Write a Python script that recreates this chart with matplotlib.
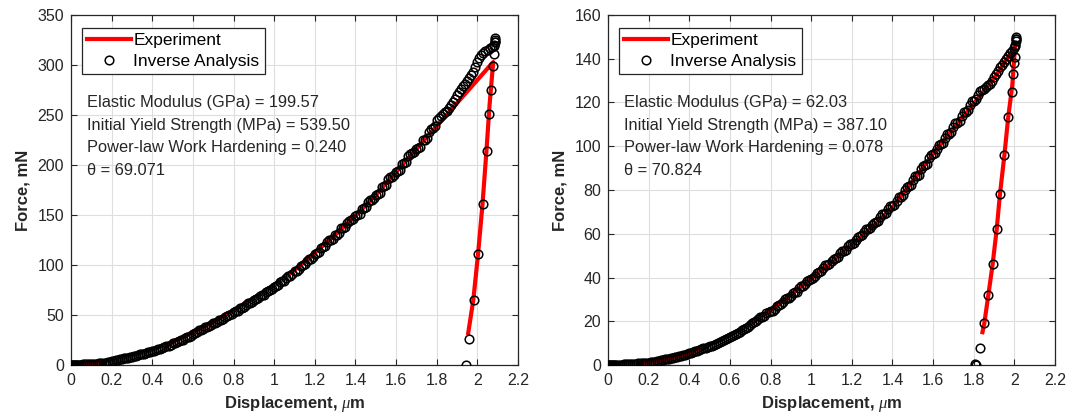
import matplotlib
matplotlib.use('Agg')
import matplotlib.pyplot as plt
from matplotlib.ticker import FuncFormatter

plt.rcParams['font.family'] = ['Liberation Sans', 'DejaVu Sans']
plt.rcParams['mathtext.fontset'] = 'custom'
plt.rcParams['mathtext.it'] = 'Liberation Serif:italic'
plt.rcParams['mathtext.rm'] = 'Liberation Sans'

# displacement samples of the inverse-analysis points (same for both tests)
h_start = [0.000, 0.005, 0.010, 0.015, 0.020, 0.025, 0.030, 0.035, 0.040, 0.050,
           0.060, 0.070, 0.080, 0.090, 0.100, 0.110, 0.120, 0.130, 0.140, 0.150,
           0.160, 0.170, 0.180, 0.190]
h_mid = [0.20, 0.21, 0.22, 0.23, 0.24, 0.25, 0.26, 0.27, 0.28, 0.29,
         0.30, 0.31, 0.32, 0.33, 0.34, 0.35, 0.36, 0.37, 0.38, 0.39,
         0.40, 0.41, 0.42, 0.43, 0.44, 0.45, 0.46, 0.47, 0.48, 0.49,
         0.50, 0.51, 0.52, 0.53, 0.54, 0.55, 0.56, 0.57, 0.58, 0.59,
         0.60, 0.61, 0.62, 0.63, 0.64, 0.65, 0.66, 0.67, 0.68, 0.69,
         0.70, 0.71, 0.72, 0.73, 0.74, 0.75, 0.76, 0.77, 0.78, 0.79,
         0.80, 0.81, 0.82, 0.83, 0.84, 0.85, 0.86, 0.87, 0.88, 0.89,
         0.90, 0.91, 0.92, 0.93, 0.94, 0.95, 0.96, 0.97, 0.98, 0.99,
         1.00, 1.01, 1.02, 1.03, 1.04, 1.05, 1.06, 1.07, 1.08, 1.09,
         1.10, 1.11, 1.12, 1.13, 1.14, 1.15, 1.16, 1.17, 1.18, 1.19,
         1.20, 1.21, 1.22, 1.23, 1.24, 1.25, 1.26, 1.27, 1.28, 1.29,
         1.30, 1.31, 1.32, 1.33, 1.34, 1.35, 1.36, 1.37, 1.38, 1.39,
         1.40, 1.41, 1.42, 1.43, 1.44, 1.45, 1.46, 1.47, 1.48, 1.49,
         1.50, 1.51, 1.52, 1.53, 1.54, 1.55, 1.56, 1.57, 1.58, 1.59,
         1.60, 1.61, 1.62, 1.63, 1.64, 1.65, 1.66, 1.67, 1.68, 1.69,
         1.70, 1.71, 1.72, 1.73, 1.74, 1.75, 1.76, 1.77, 1.78, 1.79,
         1.80, 1.81, 1.82, 1.83, 1.84, 1.85, 1.86, 1.87, 1.88, 1.89,
         1.90, 1.91, 1.92, 1.93, 1.94, 1.95, 1.96, 1.97, 1.98, 1.99]

# ---- left specimen -------------------------------------------------------
exp1_h = [0, 0.1, 0.2, 0.3, 0.4, 0.5, 0.6, 0.7, 0.8, 0.9, 1.0, 1.1, 1.2, 1.3,
          1.4, 1.5, 1.6, 1.7, 1.8, 1.9, 2.0, 2.078,
          2.06, 2.045, 2.025, 2.003, 1.98, 1.955]
exp1_f = [0, 1, 4, 9, 15, 23, 33, 43, 55, 67, 80, 95, 112, 130,
          149, 170, 193, 216, 239, 262, 285, 303,
          260, 215, 160, 110, 65, 32]

inv1_f_start = [0, 0, 0.05, 0.1, 0.15, 0.2, 0.25, 0.3, 0.35, 0.45,
                0.55, 0.65, 0.75, 0.85, 0.95, 1.1, 1.3, 1.5, 1.7, 1.95,
                2.2, 2.5, 2.8, 3.2]
inv1_f_mid = [3.6, 4.0, 4.6, 5.3, 5.6, 5.9, 6.6, 7.2, 7.4, 7.8,
              8.4, 9.0, 9.4, 9.8, 10.6, 11.2, 11.4, 12.0, 12.8, 13.4,
              13.6, 14.0, 15.2, 16.0, 16.2, 17.0, 18.4, 19.0, 19.4, 20.2,
              21.6, 21.8, 23.0, 24.4, 24.6, 25.4, 27.2, 28.0, 28.2, 29.4,
              31.4, 31.6, 32.8, 34.6, 34.8, 35.6, 37.6, 38.4, 38.6, 39.8,
              41.8, 42.0, 42.8, 44.8, 45.4, 45.8, 47.8, 49.4, 49.6, 50.6,
              53.4, 53.6, 54.4, 56.8, 57.4, 57.8, 60.0, 61.6, 61.8, 62.8,
              65.4, 65.6, 66.6, 69.2, 69.8, 70.2, 72.8, 74.4, 74.6, 75.8,
              78.4, 78.8, 80.0, 83.0, 83.6, 84.2, 87.4, 89.0, 89.4, 90.6,
              93.6, 94.0, 95.6, 99.2, 99.8, 100.6, 104.4, 106.0, 106.4, 107.8,
              111.4, 111.6, 113.0, 117.2, 117.8, 118.6, 122.8, 124.6, 124.8, 126.2,
              130.0, 130.4, 132.0, 136.6, 137.2, 137.8, 142.4, 144.4, 144.8, 146.0,
              149.2, 149.6, 151.2, 156.4, 157.2, 157.8, 163.0, 165.0, 165.4, 166.6,
              170.4, 170.8, 172.4, 178.2, 179.0, 179.6, 185.6, 188.0, 188.4, 189.8,
              193.4, 193.8, 195.4, 201.2, 202.0, 202.6, 208.6, 211.2, 211.6, 212.8,
              216.4, 216.8, 218.4, 224.6, 225.4, 226.6, 233.0, 236.0, 237.0, 239.0,
              245.0, 246.5, 248.5, 251.0, 252.5, 254.0, 256.5, 259.5, 262.5, 266.0,
              270.0, 273.0, 276.0, 278.5, 281.0, 284.0, 287.0, 290.0, 293.0, 297.5]
# top of loading branch and the unloading branch
inv1_h_end = [2.000, 2.010, 2.020, 2.030, 2.040, 2.050, 2.060, 2.070, 2.080,
              2.085, 2.087, 2.088,
              2.086, 2.084, 2.080, 2.075, 2.067, 2.057, 2.046, 2.026, 2.001,
              1.985, 1.960, 1.942]
inv1_f_end = [303.0, 306.5, 309.5, 311.5, 313.5, 315.0, 316.5, 318.0, 320.0,
              322.5, 325.0, 326.5,
              323.0, 319.0, 311.0, 299.0, 275.0, 251.0, 214.0, 161.0, 111.0,
              65.0, 26.0, 0.0]

# ---- right specimen ------------------------------------------------------
exp2_h = [0, 0.1, 0.2, 0.3, 0.4, 0.5, 0.6, 0.7, 0.8, 0.9, 1.0, 1.1, 1.2, 1.3,
          1.4, 1.5, 1.6, 1.7, 1.8, 1.9, 2.003,
          1.99, 1.97, 1.951, 1.929, 1.913, 1.893, 1.872, 1.852, 1.843]
exp2_f = [0, 0.3, 1.2, 3, 5.5, 9, 13.5, 19, 25, 32, 39.5, 47, 55, 63,
          72, 84, 96.5, 108, 119.5, 131, 145.5,
          128, 113.5, 96, 78, 62, 46, 32, 19, 15]

inv2_f_start = [0, 0, 0, 0, 0.02, 0.04, 0.06, 0.08, 0.1, 0.12,
                0.15, 0.2, 0.25, 0.3, 0.35, 0.4, 0.45, 0.55, 0.6, 0.7,
                0.75, 0.85, 0.95, 1.0]
inv2_f_mid = [1.1, 1.3, 1.45, 1.6, 1.8, 2.0, 2.2, 2.4, 2.6, 2.8,
              2.9, 3.1, 3.3, 3.5, 3.8, 4.1, 4.3, 4.5, 4.8, 5.1,
              5.3, 5.6, 5.9, 6.2, 6.6, 7.0, 7.3, 7.6, 8.0, 8.4,
              8.5, 8.8, 9.2, 9.8, 10.2, 10.5, 10.9, 11.5, 12.0, 12.3,
              12.7, 13.2, 13.9, 14.3, 14.6, 15.3, 16.1, 16.6, 16.9, 17.6,
              18.4, 19.3, 19.6, 20.0, 21.0, 21.8, 22.0, 22.5, 23.6, 24.4,
              24.6, 24.9, 25.6, 26.9, 27.4, 27.7, 28.6, 30.0, 30.5, 30.8,
              31.6, 32.7, 33.2, 33.6, 35.0, 35.9, 36.2, 36.9, 38.4, 39.0,
              39.2, 39.6, 40.6, 42.0, 42.4, 42.9, 44.3, 45.6, 45.9, 46.4,
              47.6, 48.6, 48.9, 49.3, 51.0, 52.0, 52.2, 52.8, 54.4, 55.3,
              55.4, 55.8, 57.2, 58.6, 58.8, 59.2, 60.8, 62.0, 62.2, 62.8,
              64.2, 65.0, 65.2, 65.7, 67.5, 68.8, 69.0, 69.5, 71.4, 72.6,
              72.8, 73.2, 75.0, 76.6, 76.9, 77.5, 79.8, 81.4, 81.6, 82.4,
              84.6, 86.2, 86.4, 87.0, 89.4, 91.0, 91.3, 92.0, 94.4, 96.0,
              96.3, 96.8, 98.8, 100.6, 100.8, 101.4, 103.8, 105.6, 105.8, 106.6,
              108.6, 110.6, 110.8, 111.4, 113.8, 115.6, 115.8, 116.6, 118.8, 120.6,
              120.8, 121.4, 123.2, 125.2, 125.6, 126.2, 127.0, 128.0, 128.6, 129.6,
              131.5, 133.0, 134.5, 136.0, 137.2, 138.6, 140.0, 141.2, 142.4, 143.6]
inv2_h_end = [2.000, 2.004, 2.007, 2.009, 2.010,
              2.008, 2.005, 2.002, 1.999, 1.995, 1.990, 1.970, 1.951, 1.929,
              1.913, 1.893, 1.872, 1.852, 1.831, 1.811, 1.808]
inv2_f_end = [145.0, 146.5, 148.0, 149.2, 150.0,
              149.0, 146.0, 141.0, 138.0, 133.0, 125.0, 113.5, 96.0, 78.0,
              62.0, 46.0, 32.0, 19.0, 7.6, 0.0, 0.3]

panels = [
    dict(eh=exp1_h, ef=exp1_f,
         ih=h_start + h_mid + inv1_h_end,
         iff=inv1_f_start + inv1_f_mid + inv1_f_end,
         ymax=350, ystep=50,
         lines=['Elastic Modulus (GPa) = 199.57',
                'Initial Yield Strength (MPa) = 539.50',
                'Power-law Work Hardening = 0.240',
                '\u03b8 = 69.071']),
    dict(eh=exp2_h, ef=exp2_f,
         ih=h_start + h_mid + inv2_h_end,
         iff=inv2_f_start + inv2_f_mid + inv2_f_end,
         ymax=160, ystep=20,
         lines=['Elastic Modulus (GPa) = 62.03',
                'Initial Yield Strength (MPa) = 387.10',
                'Power-law Work Hardening = 0.078',
                '\u03b8 = 70.824']),
]

W, H = 1079, 418
fig = plt.figure(figsize=(W / 100, H / 100), dpi=100)
lefts = [71, 608]
dark = '#262626'

for left, p in zip(lefts, panels):
    ax = fig.add_axes([left / W, 53 / H, 447 / W, 350 / H])
    ax.plot(p['eh'], p['ef'], color='red', lw=3, label='Experiment', zorder=2)
    ax.plot(p['ih'], p['iff'], ls='none', marker='o', ms=6.2, mfc='none',
            mec='black', mew=1.1, label='Inverse Analysis', zorder=3)

    ax.set_xlim(0, 2.2)
    ax.set_ylim(0, p['ymax'])
    ax.set_xticks([0, 0.2, 0.4, 0.6, 0.8, 1.0, 1.2, 1.4, 1.6, 1.8, 2.0, 2.2])
    ax.set_yticks(list(range(0, p['ymax'] + 1, p['ystep'])))
    ax.xaxis.set_major_formatter(FuncFormatter(lambda v, pos: '%g' % round(v, 1)))
    ax.grid(True, color='#dedede', lw=0.8)
    ax.set_axisbelow(True)
    ax.tick_params(direction='in', top=True, right=True, length=4,
                   color=dark, labelsize=11.5, labelcolor=dark)
    ax.tick_params(axis='x', pad=6)
    ax.tick_params(axis='y', pad=5)
    for s in ax.spines.values():
        s.set_color(dark)
        s.set_linewidth(0.9)

    ax.set_xlabel(r'Displacement, $\mu$m', fontsize=12, fontweight='bold',
                  color=dark, labelpad=4)
    ax.set_ylabel('Force, mN', fontsize=12, fontweight='bold', color=dark,
                  labelpad=5)

    leg = ax.legend(loc='upper left', bbox_to_anchor=(0.0246, 0.963),
                    borderaxespad=0, fancybox=False, framealpha=1,
                    edgecolor=dark, fontsize=12.5, handlelength=2.5,
                    handletextpad=0.15, borderpad=0.3, labelspacing=0.3)
    leg.get_frame().set_linewidth(0.9)

    for k, t in enumerate(p['lines']):
        ax.text(0.036, 0.749 - k * 0.064, t, transform=ax.transAxes,
                fontsize=11.8, color=dark, va='center', ha='left')

fig.savefig('out.png', dpi=100)
